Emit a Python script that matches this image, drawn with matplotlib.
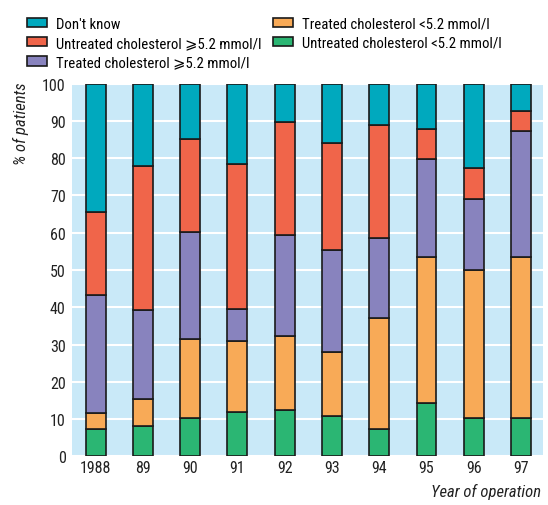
import matplotlib
matplotlib.use('Agg')
import matplotlib.pyplot as plt
from matplotlib import font_manager
import numpy as np

# narrow sans face close to the original typeface, whichever is installed
available = {f.name for f in font_manager.fontManager.ttflist}
narrow = [f for f in ['Roboto Condensed', 'Archivo Narrow', 'Liberation Sans Narrow',
                      'PT Sans Narrow', 'Open Sans Condensed'] if f in available]
plt.rcParams['font.family'] = narrow + ['DejaVu Sans']

years = ['1988', '89', '90', '91', '92', '93', '94', '95', '96', '97']

untreated_low = [7.3, 8.2, 10.2, 11.8, 12.4, 10.9, 7.2, 14.3, 10.2, 10.2]
treated_low = [4.2, 7.2, 21.3, 19.2, 20.0, 17.1, 30.0, 39.1, 39.8, 43.2]
treated_high = [31.9, 23.8, 28.7, 8.5, 27.1, 27.3, 21.5, 26.3, 19.0, 34.0]
untreated_high = [22.2, 38.7, 25.0, 39.0, 30.3, 28.7, 30.3, 8.2, 8.5, 5.2]
dont_know = [34.4, 22.1, 14.8, 21.5, 10.2, 16.0, 11.0, 12.1, 22.5, 7.4]

series = [
    (untreated_low, '#2bb673', 'Untreated cholesterol <5.2 mmol/l'),
    (treated_low, '#f8aa57', 'Treated cholesterol <5.2 mmol/l'),
    (treated_high, '#8883be', 'Treated cholesterol \u2a7e5.2 mmol/l'),
    (untreated_high, '#f0654a', 'Untreated cholesterol \u2a7e5.2 mmol/l'),
    (dont_know, '#00a9be', "Don't know"),
]

fig = plt.figure(figsize=(5.48, 5.06), dpi=100)
ax = fig.add_axes([0.1314, 0.0962, 0.859, 0.7364])
ax.set_facecolor('#c9e9f8')

x = np.arange(len(years))
bottom = np.zeros(len(years))
handles = {}
for vals, col, lab in series:
    b = ax.bar(x, vals, 0.42, bottom=bottom, color=col, edgecolor='#1a1a1a',
               linewidth=1.2, label=lab, zorder=3)
    handles[lab] = b
    bottom += np.array(vals)

ax.set_ylim(0, 100)
ax.set_xlim(-0.5, 9.46)
ax.set_yticks(range(0, 101, 10))
ax.set_xticks(x)
ax.set_xticklabels(years)
ax.yaxis.grid(True, color='white', linewidth=1.5, zorder=0)
ax.set_axisbelow(True)
for s in ax.spines.values():
    s.set_visible(False)
ax.tick_params(length=0, labelsize=11.5, colors='#222222')
ax.tick_params(axis='y', pad=4.5)
ax.tick_params(axis='x', pad=3)

fig.text(0.039, 0.838, '% of patients', rotation=90, style='italic', fontsize=12,
         ha='center', va='top', color='#222222')
fig.text(0.987, 0.012, 'Year of operation', style='italic', fontsize=12,
         ha='right', va='bottom', color='#222222')

legend_kw = dict(loc='upper left', frameon=False, fontsize=10.6,
                 handlelength=1.35, handleheight=0.6, handletextpad=0.65,
                 labelspacing=0.35, borderpad=0, borderaxespad=0)
col1 = ["Don't know", 'Untreated cholesterol \u2a7e5.2 mmol/l',
        'Treated cholesterol \u2a7e5.2 mmol/l']
col2 = ['Treated cholesterol <5.2 mmol/l', 'Untreated cholesterol <5.2 mmol/l']
fig.legend([handles[o] for o in col1], col1, bbox_to_anchor=(0.049, 0.965), **legend_kw)
fig.legend([handles[o] for o in col2], col2, bbox_to_anchor=(0.498, 0.965), **legend_kw)

plt.savefig('out.png', dpi=100)
